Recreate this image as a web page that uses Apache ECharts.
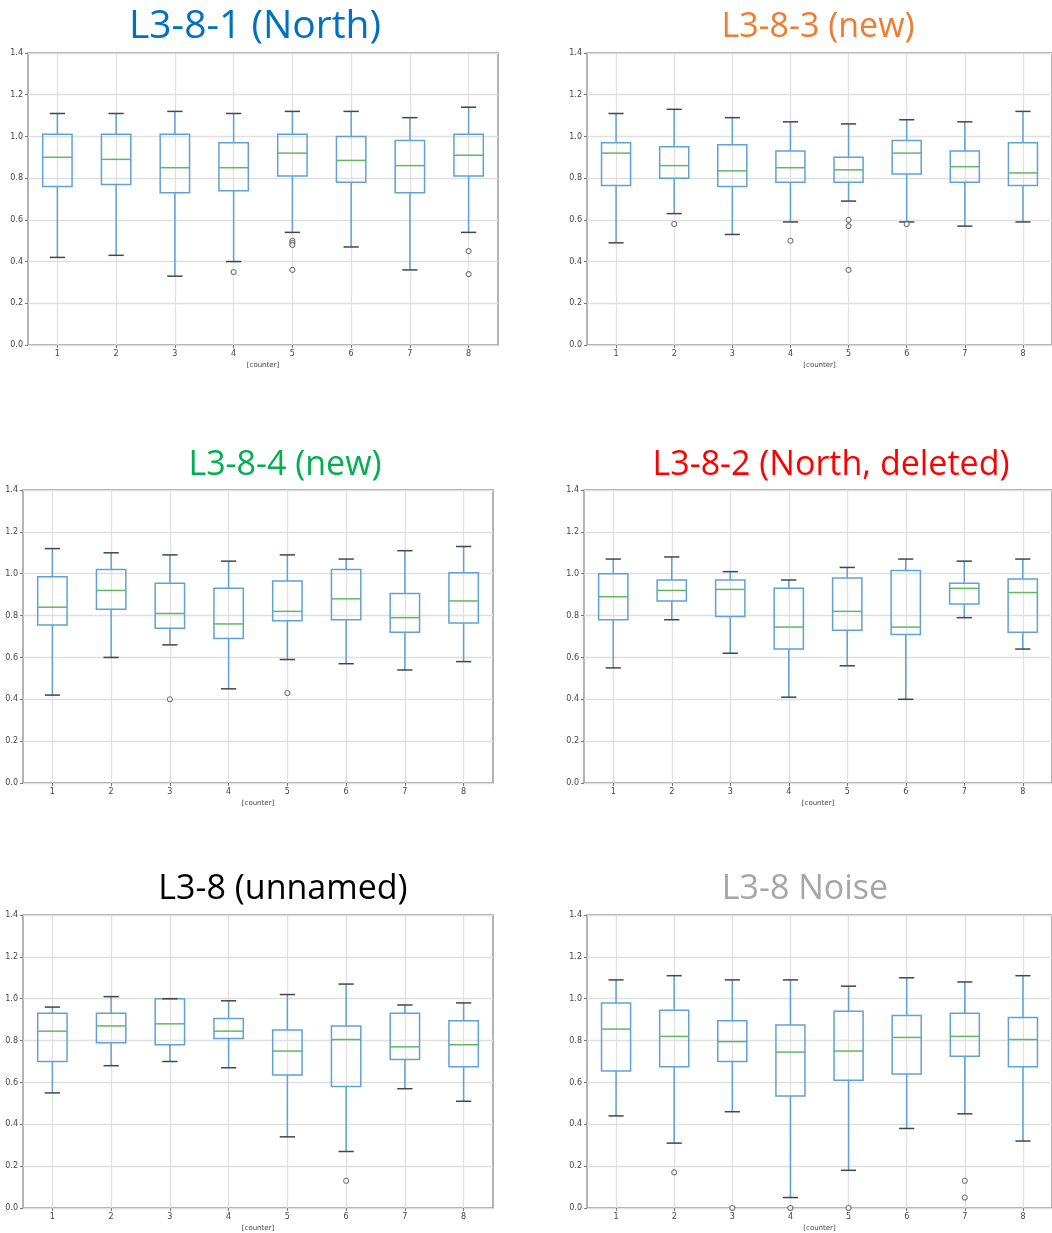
<!DOCTYPE html>
<html>
<head>
<meta charset="utf-8">
<script src="https://cdn.jsdelivr.net/npm/echarts@6/dist/echarts.min.js"></script>
<style>
  html, body { margin: 0; padding: 0; background: #ffffff; }
  #chart { width: 1052px; height: 1233px; }
</style>
</head>
<body>
<div id="chart"></div>
<script>
// Counter positions shared by every panel
const counters = ['1', '2', '3', '4', '5', '6', '7', '8'];

// Each row: [lower whisker, Q1, median, Q3, upper whisker], one row per counter
const boxesL381 = [
  [0.42, 0.76, 0.90, 1.01, 1.11],
  [0.43, 0.77, 0.89, 1.01, 1.11],
  [0.33, 0.73, 0.85, 1.01, 1.12],
  [0.40, 0.74, 0.85, 0.97, 1.11],
  [0.54, 0.81, 0.92, 1.01, 1.12],
  [0.47, 0.78, 0.885, 1.00, 1.12],
  [0.36, 0.73, 0.86, 0.98, 1.09],
  [0.54, 0.81, 0.91, 1.01, 1.14]
];
// Outliers: [counter index, value]
const outliersL381 = [[3, 0.35], [4, 0.50], [4, 0.49], [4, 0.48], [4, 0.36], [7, 0.45], [7, 0.34]];

const boxesL383 = [
  [0.49, 0.765, 0.92, 0.97, 1.11],
  [0.63, 0.80, 0.86, 0.95, 1.13],
  [0.53, 0.76, 0.835, 0.96, 1.09],
  [0.59, 0.78, 0.85, 0.93, 1.07],
  [0.69, 0.78, 0.84, 0.90, 1.06],
  [0.59, 0.82, 0.92, 0.98, 1.08],
  [0.57, 0.78, 0.855, 0.93, 1.07],
  [0.59, 0.765, 0.825, 0.97, 1.12]
];
const outliersL383 = [[1, 0.58], [3, 0.50], [4, 0.60], [4, 0.57], [4, 0.36], [5, 0.58]];

const boxesL384 = [
  [0.42, 0.755, 0.84, 0.985, 1.12],
  [0.60, 0.83, 0.92, 1.02, 1.10],
  [0.66, 0.74, 0.81, 0.955, 1.09],
  [0.45, 0.69, 0.76, 0.93, 1.06],
  [0.59, 0.775, 0.82, 0.965, 1.09],
  [0.57, 0.78, 0.88, 1.02, 1.07],
  [0.54, 0.72, 0.79, 0.905, 1.11],
  [0.58, 0.765, 0.87, 1.005, 1.13]
];
const outliersL384 = [[2, 0.40], [4, 0.43]];

const boxesL382 = [
  [0.55, 0.78, 0.89, 1.00, 1.07],
  [0.78, 0.87, 0.92, 0.97, 1.08],
  [0.62, 0.795, 0.925, 0.97, 1.01],
  [0.41, 0.64, 0.745, 0.93, 0.97],
  [0.56, 0.73, 0.82, 0.98, 1.03],
  [0.40, 0.71, 0.745, 1.015, 1.07],
  [0.79, 0.855, 0.93, 0.955, 1.06],
  [0.64, 0.72, 0.91, 0.975, 1.07]
];
const outliersL382 = [];

const boxesL38 = [
  [0.55, 0.70, 0.845, 0.93, 0.96],
  [0.68, 0.79, 0.87, 0.93, 1.01],
  [0.70, 0.78, 0.88, 1.00, 1.00],
  [0.67, 0.81, 0.845, 0.905, 0.99],
  [0.34, 0.635, 0.75, 0.85, 1.02],
  [0.27, 0.58, 0.805, 0.87, 1.07],
  [0.57, 0.71, 0.77, 0.93, 0.97],
  [0.51, 0.675, 0.78, 0.895, 0.98]
];
const outliersL38 = [[5, 0.13]];

const boxesNoise = [
  [0.44, 0.655, 0.855, 0.98, 1.09],
  [0.31, 0.675, 0.82, 0.945, 1.11],
  [0.46, 0.70, 0.795, 0.895, 1.09],
  [0.05, 0.535, 0.745, 0.875, 1.09],
  [0.18, 0.61, 0.75, 0.94, 1.06],
  [0.38, 0.64, 0.815, 0.92, 1.10],
  [0.45, 0.725, 0.82, 0.93, 1.08],
  [0.32, 0.675, 0.805, 0.91, 1.11]
];
const outliersNoise = [[1, 0.17], [2, 0.0], [3, 0.0], [4, 0.0], [6, 0.13], [6, 0.05]];

// Panel layout: title, title colour and size, plot rectangle
const panels = [
  { title: 'L3-8-1 (North)', color: '#0070C0', size: 39, tx: 255, ty: 27, grid: { left: 28, top: 53, width: 470, height: 292 }, boxes: boxesL381, outliers: outliersL381 },
  { title: 'L3-8-3 (new)', color: '#ED7D31', size: 34, tx: 818, ty: 27, grid: { left: 587, top: 53, width: 470, height: 292 }, boxes: boxesL383, outliers: outliersL383 },
  { title: 'L3-8-4 (new)', color: '#00B050', size: 34, tx: 285, ty: 465, grid: { left: 23, top: 490, width: 470, height: 293 }, boxes: boxesL384, outliers: outliersL384 },
  { title: 'L3-8-2 (North, deleted)', color: '#FF0000', size: 34, tx: 831, ty: 465, grid: { left: 584, top: 490, width: 470, height: 293 }, boxes: boxesL382, outliers: outliersL382 },
  { title: 'L3-8 (unnamed)', color: '#000000', size: 34, tx: 283, ty: 889, grid: { left: 23, top: 915, width: 470, height: 293 }, boxes: boxesL38, outliers: outliersL38 },
  { title: 'L3-8 Noise', color: '#A6A6A6', size: 34, tx: 805, ty: 889, grid: { left: 587, top: 915, width: 470, height: 293 }, boxes: boxesNoise, outliers: outliersNoise }
];

const BOX_BLUE = '#5fa2d8';
const MEDIAN_GREEN = '#5fba5f';
const CAP_GREY = '#454545';
const GRID_GREY = '#e0e0e0';
const SPINE_GREY = '#8c8c8c';

function seg(x1, y1, x2, y2, color) {
  return { type: 'line', shape: { x1, y1, x2, y2 }, style: { stroke: color, lineWidth: 1.5 } };
}

// Draws one box-and-whisker glyph in the matplotlib style
function renderBox(params, api) {
  const i = api.value(0);
  const lo = api.coord([i, api.value(1)]);
  const q1 = api.coord([i, api.value(2)]);
  const med = api.coord([i, api.value(3)]);
  const q3 = api.coord([i, api.value(4)]);
  const hi = api.coord([i, api.value(5)]);
  const band = api.size([1, 0])[0];
  const half = band * 0.25;
  const cap = band * 0.13;
  const x = med[0];
  return {
    type: 'group',
    children: [
      seg(x, hi[1], x, q3[1], BOX_BLUE),
      seg(x, q1[1], x, lo[1], BOX_BLUE),
      {
        type: 'rect',
        shape: { x: x - half, y: q3[1], width: half * 2, height: q1[1] - q3[1] },
        style: { fill: 'none', stroke: BOX_BLUE, lineWidth: 1.5 }
      },
      seg(x - half, med[1], x + half, med[1], MEDIAN_GREEN),
      seg(x - cap, hi[1], x + cap, hi[1], CAP_GREY),
      seg(x - cap, lo[1], x + cap, lo[1], CAP_GREY)
    ]
  };
}

const grids = [], xAxes = [], yAxes = [], series = [], graphics = [];

panels.forEach((p, k) => {
  grids.push(Object.assign({ show: true, borderColor: SPINE_GREY, borderWidth: 1.3, containLabel: false }, p.grid));

  xAxes.push({
    type: 'category',
    gridIndex: k,
    data: counters,
    boundaryGap: true,
    axisLine: { show: false },
    axisTick: { show: true, alignWithLabel: true, length: 3, lineStyle: { color: '#777' } },
    axisLabel: { fontSize: 8, color: '#444', margin: 5, fontFamily: 'DejaVu Sans' },
    splitLine: { show: false },
    name: '[counter]',
    nameLocation: 'middle',
    nameGap: 17,
    nameTextStyle: { fontSize: 7, color: '#444', fontFamily: 'DejaVu Sans' }
  });

  yAxes.push({
    type: 'value',
    gridIndex: k,
    min: 0,
    max: 1.4,
    interval: 0.2,
    axisLine: { show: false },
    axisTick: { show: true, length: 3, lineStyle: { color: '#777' } },
    axisLabel: { fontSize: 8, color: '#444', margin: 5, fontFamily: 'DejaVu Sans', formatter: v => v.toFixed(1) },
    splitLine: { show: true, lineStyle: { color: GRID_GREY, width: 1.3 } }
  });

  // vertical grid lines through each counter (kept beneath the boxes), then the outlier markers
  series.push({
    type: 'scatter',
    xAxisIndex: k,
    yAxisIndex: k,
    z: 6,
    symbol: 'circle',
    symbolSize: 5,
    itemStyle: { color: '#ffffff', borderColor: '#555', borderWidth: 1.1 },
    data: p.outliers.map(o => [o[0], o[1]]),
    silent: true,
    markLine: {
      z: 1,
      silent: true,
      symbol: 'none',
      animation: false,
      label: { show: false },
      lineStyle: { color: GRID_GREY, width: 1.3, type: 'solid' },
      data: counters.map(c => ({ xAxis: c }))
    }
  });

  series.push({
    type: 'custom',
    xAxisIndex: k,
    yAxisIndex: k,
    z: 5,
    renderItem: renderBox,
    encode: { x: 0, y: [1, 2, 3, 4, 5] },
    data: p.boxes.map((b, i) => [i].concat(b)),
    silent: true
  });

  graphics.push({
    type: 'text',
    x: p.tx,
    y: p.ty,
    style: {
      text: p.title,
      fill: p.color,
      font: p.size + 'px "Open Sans", sans-serif',
      textAlign: 'center',
      textVerticalAlign: 'middle'
    }
  });
});

const chart = echarts.init(document.getElementById('chart'), null, { renderer: 'canvas' });
chart.setOption({
  animation: false,
  backgroundColor: '#ffffff',
  grid: grids,
  xAxis: xAxes,
  yAxis: yAxes,
  series: series,
  graphic: graphics
});
</script>
</body>
</html>
